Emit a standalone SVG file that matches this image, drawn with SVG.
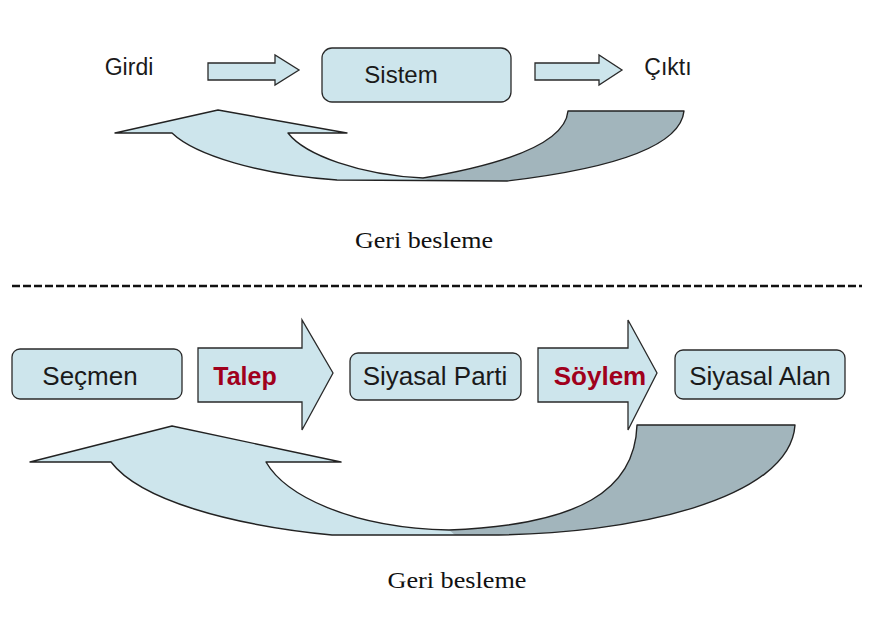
<svg xmlns="http://www.w3.org/2000/svg" width="870" height="629" viewBox="0 0 870 629">
<style>
.box{fill:#cde5ec;stroke:#2a2a2a;stroke-width:1.3}
.arr{fill:#cde5ec;stroke:#2a2a2a;stroke-width:1.3;stroke-linejoin:miter}
.lt{fill:#cde5ec;stroke:none}
.dk{fill:#a2b5bc;stroke:none}
.ol{fill:none;stroke:#222;stroke-width:1.4;stroke-linejoin:round}
.t{font-family:"Liberation Sans",Arial,sans-serif;fill:#1a1a1a;text-anchor:middle}
.tb{font-family:"Liberation Sans",Arial,sans-serif;font-weight:bold;fill:#a0001c;text-anchor:middle}
.s{font-family:"Liberation Serif","Times New Roman",serif;fill:#111;font-size:24px;text-anchor:middle}
</style>
<rect width="870" height="629" fill="#ffffff"/>

<!-- top section -->
<g id="girdi"><text class="t" x="129" y="75" font-size="23">Girdi</text></g>
<g id="sistem">
<rect class="box" x="322" y="48" width="189" height="54" rx="10"/>
<text class="t" x="401" y="83" font-size="24">Sistem</text>
</g>
<g id="cikti"><text class="t" x="668" y="75" font-size="23">Çıktı</text></g>

<g id="connectors">
<polygon class="arr" points="208,63 275,63 275,55 299,70 275,85 275,80 208,80"/>
<polygon class="arr" points="535,63 599,63 599,55 622,70 599,85 599,80 535,80"/>

<!-- top feedback arrow -->
<path class="lt" d="M115,133 L218,110 L347,133 L288,133 C305,155 360,175 423,178 L432,181 L337,180 C260,175 195,155 172,133 Z"/>
<path class="dk" d="M423,178 C500,165 565,145 568,111 L684,111 C680,150 600,170 507,181 L430,181 Z"/>
<path class="ol" d="M115,133 L218,110 L347,133 L288,133 C305,155 360,175 423,178 C500,165 565,145 568,111 L684,111 C680,150 600,170 507,181 L337,180 C260,175 195,155 172,133 Z"/>

<!-- bottom arrows -->
<polygon class="arr" points="198,348 302,348 302,320 333,373 302,430 302,402 198,402"/>
<polygon class="arr" points="538,348 628,348 628,320 657,373 628,430 628,402 538,402"/>

<!-- bottom feedback arrow -->
<path class="lt" d="M30,462 L172,426 L341,462 L266,462 C285,495 350,528 449,530 L458,535 L332,535 C230,525 140,500 111,462 Z"/>
<path class="dk" d="M449,530 C580,525 635,490 637,425 L795,425 C790,500 630,535 487,535 L455,535 Z"/>
<path class="ol" d="M30,462 L172,426 L341,462 L266,462 C285,495 350,528 449,530 C580,525 635,490 637,425 L795,425 C790,500 630,535 487,535 L332,535 C230,525 140,500 111,462 Z"/>
</g>

<g id="label-top"><text class="s" x="424" y="248" textLength="138" lengthAdjust="spacingAndGlyphs">Geri besleme</text></g>

<line x1="12" y1="286" x2="862" y2="286" stroke="#111" stroke-width="2.5" stroke-dasharray="8,3"/>

<!-- bottom section -->
<g id="secmen">
<rect class="box" x="12" y="349" width="170" height="50" rx="8"/>
<text class="t" x="90" y="385" font-size="26">Seçmen</text>
</g>
<g id="talep"><text class="tb" x="245" y="385" font-size="25">Talep</text></g>
<g id="siyasal-parti">
<rect class="box" x="350" y="353" width="171" height="47" rx="8"/>
<text class="t" x="435" y="385" font-size="26">Siyasal Parti</text>
</g>
<g id="soylem"><text class="tb" x="600" y="385" font-size="26">Söylem</text></g>
<g id="siyasal-alan">
<rect class="box" x="675" y="350" width="170" height="49" rx="8"/>
<text class="t" x="760" y="385" font-size="26">Siyasal Alan</text>
</g>

<g id="label-bottom"><text class="s" x="457" y="588" textLength="139" lengthAdjust="spacingAndGlyphs">Geri besleme</text></g>
</svg>
